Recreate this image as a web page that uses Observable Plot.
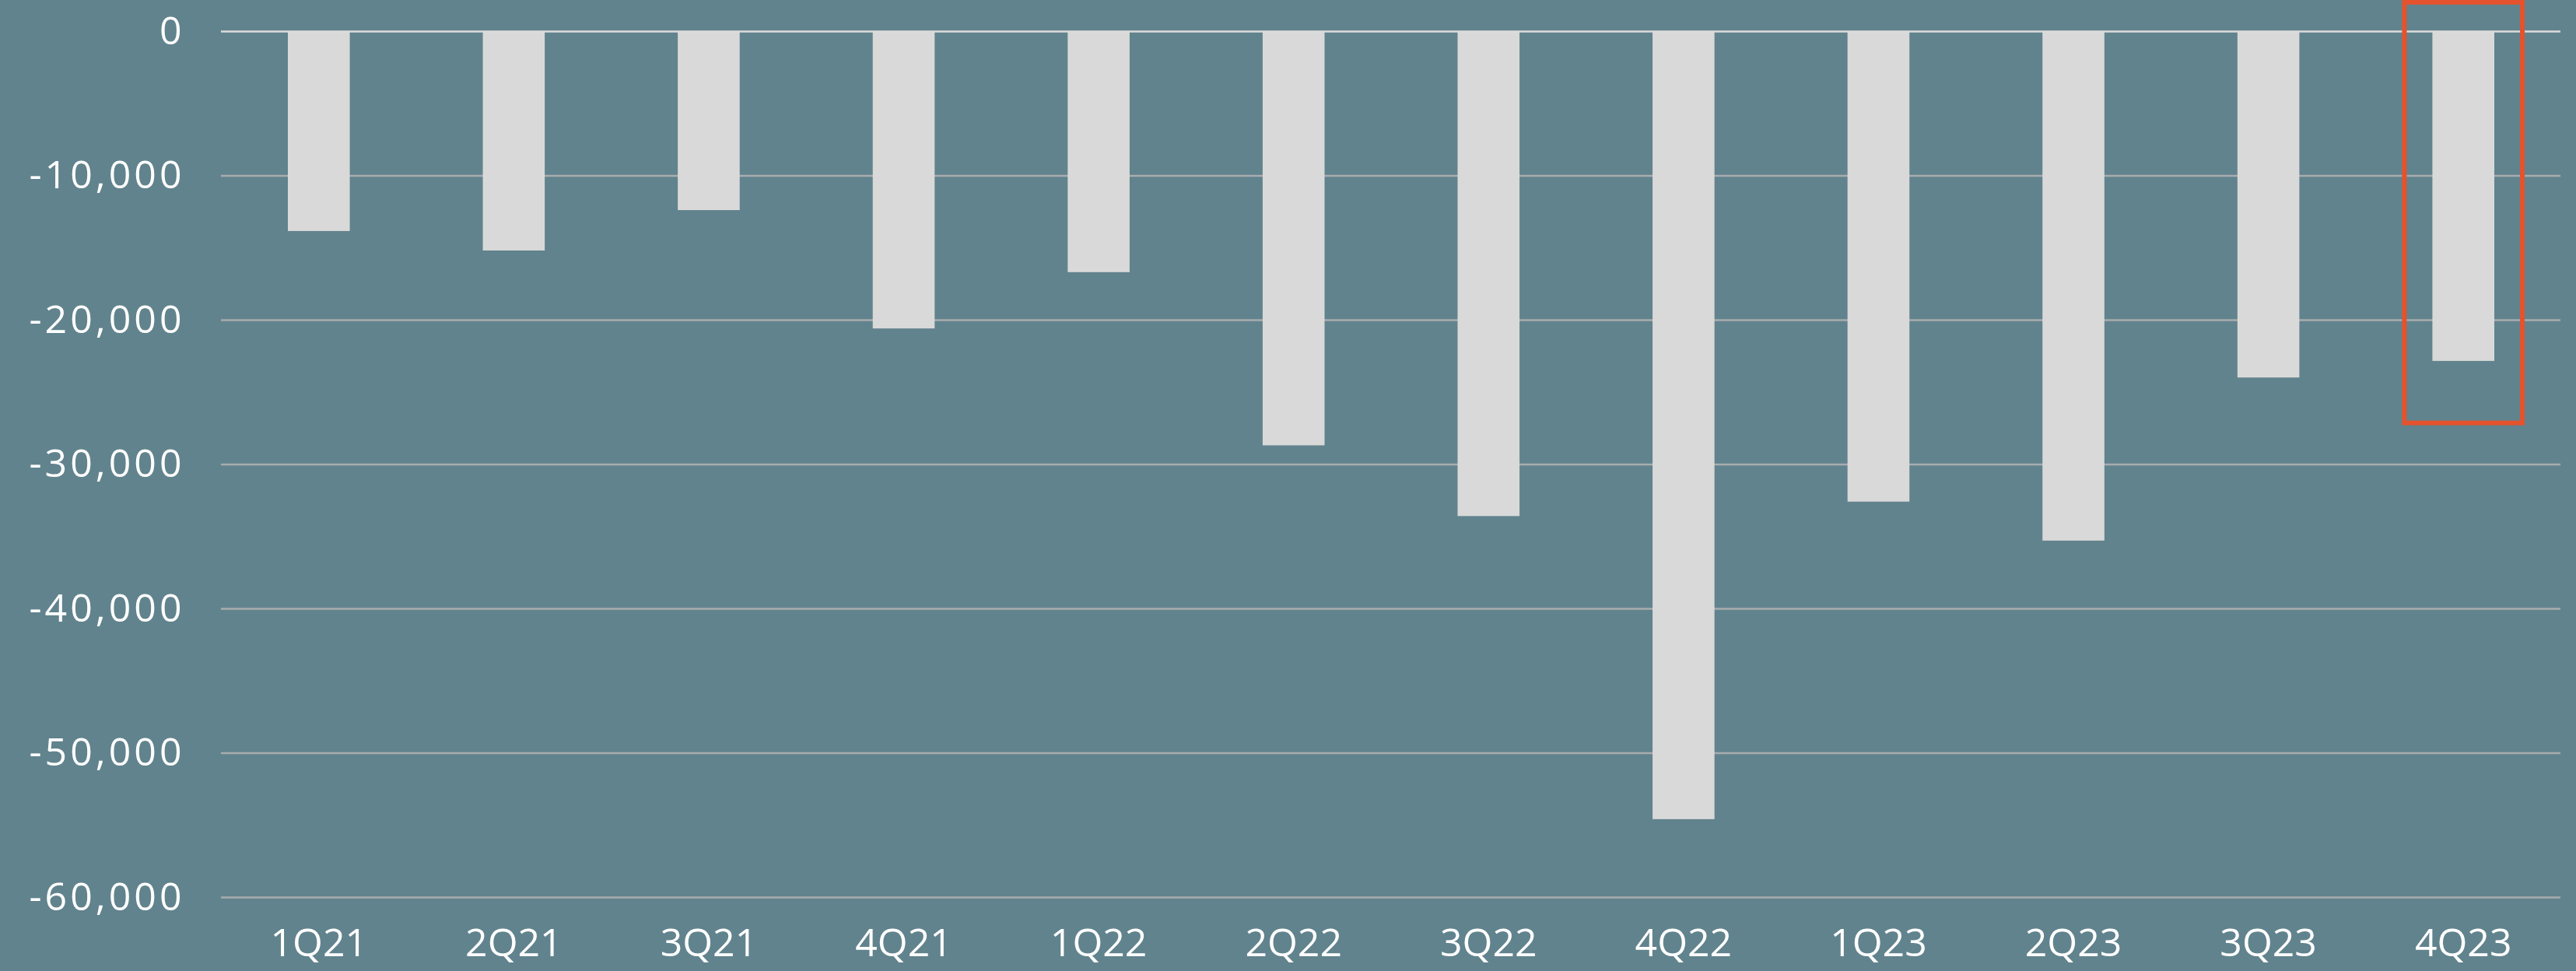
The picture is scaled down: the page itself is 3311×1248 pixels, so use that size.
<!DOCTYPE html>
<html>
<head>
<meta charset="utf-8">
<script src="https://cdn.jsdelivr.net/npm/d3@7"></script>
<script src="https://cdn.jsdelivr.net/npm/@observablehq/plot@0.6"></script>
<style>
  html, body { margin: 0; padding: 0; background: #61838d; }
  #chart svg { display: block; }
  #chart g[aria-label="y-axis tick label"] text { letter-spacing: 4px; }
</style>
</head>
<body>
<div id="chart"></div>
<script>
const quarters = ["1Q21","2Q21","3Q21","4Q21","1Q22","2Q22","3Q22","4Q22","1Q23","2Q23","3Q23","4Q23"];
const values = [-13850, -15200, -12400, -20600, -16700, -28700, -33600, -54600, -32600, -35300, -24000, -22850];
const yTicks = [0, -10000, -20000, -30000, -40000, -50000, -60000];
const highlightQuarter = ["4Q23"];
const highlightTop = [2000];
const highlightBottom = [-27150];

const data = quarters.map((q, i) => ({q, v: values[i]}));
const highlight = highlightQuarter.map((q, i) => ({q, y1: highlightTop[i], y2: highlightBottom[i]}));
const fmt = d => (d < 0 ? "-" : "") + d3.format(",")(Math.abs(d));

const chart = Plot.plot({
  width: 3311,
  height: 1248,
  marginLeft: 284,
  marginRight: 20,
  marginTop: 40,
  marginBottom: 95,
  style: {background: "#61838d", color: "#ffffff", fontFamily: "'Open Sans', sans-serif", fontSize: "50px"},
  x: {domain: quarters, padding: 0, round: false, label: null, tickSize: 0, tickPadding: 40},
  y: {domain: [-60000, 0], ticks: yTicks, tickFormat: fmt, label: null, tickSize: 0, tickPadding: 47},
  marks: [
    Plot.ruleY(yTicks.filter(d => d !== 0), {stroke: "#a9acae", strokeWidth: 2.5}),
    Plot.barY(data, {x: "q", y: "v", fill: "#d9d9d9", insetLeft: 86, insetRight: 85}),
    Plot.ruleY([0], {stroke: "#dcdcdc", strokeWidth: 2.5}),
    Plot.barY(highlight, {x: "q", y1: "y1", y2: "y2", fill: "none", stroke: "#e5522d", strokeWidth: 6, insetLeft: 50, insetRight: 49})
  ]
});
document.getElementById("chart").appendChild(chart);
</script>
</body>
</html>
